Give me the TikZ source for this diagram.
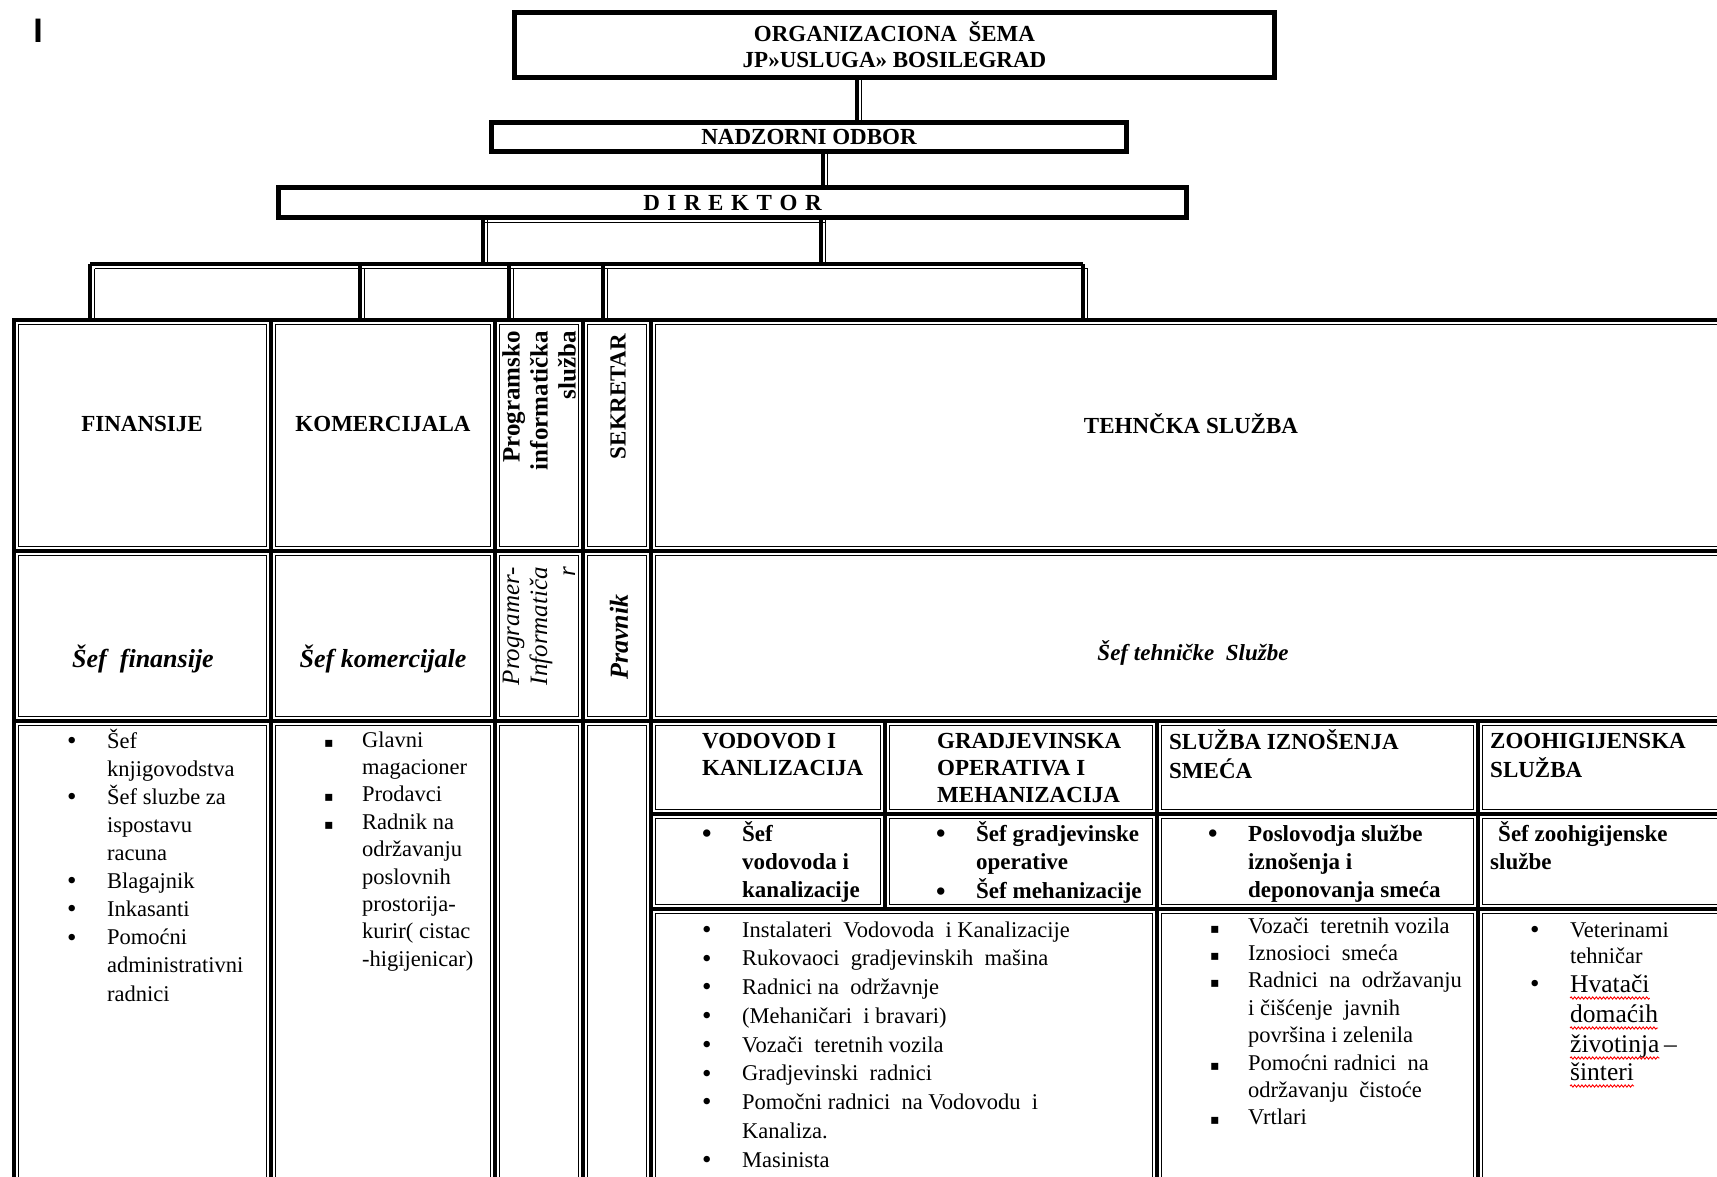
\documentclass[tikz,border=0pt]{standalone}
\usepackage{fontspec}
\setmainfont{Liberation Serif}
\newfontfamily\sansf{Liberation Sans}
\newfontfamily\symf{DejaVu Sans}
\usetikzlibrary{decorations.pathmorphing}
\newcommand\fs[2]{\fontsize{#1}{#2}\selectfont}
\newcommand\bul{\raisebox{-1.2pt}{\fontsize{27}{27}\selectfont\textbullet}}
\newcommand\bi[1]{\strut\makebox[39pt][l]{\hspace*{-1pt}\bul}#1}
\newcommand\si[1]{\strut\makebox[40pt][l]{\hspace*{2pt}{\symf\fontsize{14}{14}\selectfont ▪}}#1}
\newcommand\ci[1]{\strut\hspace*{39pt}#1}
\newcommand\cj[1]{\strut\hspace*{40pt}#1}
\newcommand\ls{\hspace{7.6pt}}
\newcommand\cellbox[4]{\draw[thk] (#1,#2) rectangle (#3,#4); \draw[thn] (#1+4.5,#2+4.5) rectangle (#3-4.5,#4-4.5);}
\begin{document}
\begin{tikzpicture}[x=1pt,y=-1pt,
  thk/.style={line width=3.5pt},
  thn/.style={line width=1.2pt},
  box/.style={draw, line width=3.5pt, inner sep=0pt, align=center, font=\bfseries\fs{23}{26}},
  hdr/.style={inner sep=0pt, font=\bfseries\fs{23}{27}},
  rhdr/.style={inner sep=0pt, rotate=90, anchor=east, align=right},
  itb/.style={inner sep=0pt, font=\bfseries\itshape\fs{26}{30}},
  lst/.style={inner sep=0pt, anchor=north west, align=left},
  wrd/.style={inner sep=0pt, anchor=base west, font=\fs{25.5}{29}},
  squig/.style={draw=red, line width=0.9pt, decorate, decoration={snake, amplitude=1.1pt, segment length=3.6pt}}
]
\useasboundingbox (0,0) rectangle (1717,1176);
\fill[white] (0,0) rectangle (1717,1176);
\clip (0,0) rectangle (1717,1176);

% corner mark
\node[font=\sansf\bfseries\fs{34}{34}, inner sep=0pt] (ibar) at (38,30.5) {I};

% top boxes
\node[box, minimum width=761pt, minimum height=66pt] (title) at (894.5,45) {ORGANIZACIONA\ \ ŠEMA\\JP»USLUGA» BOSILEGRAD};
\draw[thn] ([xshift=4.5pt,yshift=-4.5pt]title.north west) rectangle ([xshift=-4.5pt,yshift=4.5pt]title.south east);
\node[box, minimum width=636pt, minimum height=30pt] (nad) at (809,137) {NADZORNI ODBOR};
\draw[thn] ([xshift=4.5pt,yshift=-4.5pt]nad.north west) rectangle ([xshift=-4.5pt,yshift=4.5pt]nad.south east);
\node[box, minimum width=909pt, minimum height=31pt] (dir) at (732.5,202.5) {D\ls I\ls R\ls E\ls K\ls T\ls O\ls R};
\draw[thn] ([xshift=4.5pt,yshift=-4.5pt]dir.north west) rectangle ([xshift=-4.5pt,yshift=4.5pt]dir.south east);

% connectors
\coordinate (c1) at (857,0); \coordinate (c1t) at (861.5,0);
\draw[thk] (title.south -| c1) -- (nad.north -| c1);
\draw[thn] (title.south -| c1t) -- (nad.north -| c1t);
\coordinate (c2) at (823,0); \coordinate (c2t) at (827.5,0);
\draw[thk] (nad.south -| c2) -- (dir.north -| c2);
\draw[thn] (nad.south -| c2t) -- (dir.north -| c2t);

\coordinate (dL) at (483,264); \coordinate (dLt) at (487.5,264);
\coordinate (dR) at (821,264); \coordinate (dRt) at (825.5,264);
\draw[thk] (dir.south -| dL) -- (dL);
\draw[thn] (dir.south -| dLt) -- (dLt);
\draw[thk] (dir.south -| dR) -- (dR);
\draw[thn] (dir.south -| dRt) -- (dRt);
\coordinate (dLa) at (483,222.5); \coordinate (dRa) at (825.5,222.5);
\draw[thn] (dLa) -- (dRa);

\coordinate (b1) at (90,264); \coordinate (b2) at (1083,264);
\coordinate (b1t) at (94.5,268.5); \coordinate (b2t) at (1087.5,268.5);
\draw[thk] (b1) -- (b2);
\draw[thn] (b1t) -- (b2t);
\foreach \x/\n in {90/1,360/2,509/3,603/4,1083/5}{
  \coordinate (v\n) at (\x,320);
  \coordinate (w\n) at (\x+4.5,320);
  \draw[thk] (b1 -| v\n) -- (v\n);
  \draw[thn] (b1t -| w\n) -- (w\n);
}

% table cells
\cellbox{14}{320}{271}{551}
\cellbox{271}{320}{495}{551}
\cellbox{495}{320}{583}{551}
\cellbox{583}{320}{651}{551}
\cellbox{651}{320}{1731}{551}
\cellbox{14}{551}{271}{721}
\cellbox{271}{551}{495}{721}
\cellbox{495}{551}{583}{721}
\cellbox{583}{551}{651}{721}
\cellbox{651}{551}{1731}{721}
\cellbox{14}{721}{271}{1185}
\cellbox{271}{721}{495}{1185}
\cellbox{495}{721}{583}{1185}
\cellbox{583}{721}{651}{1185}
\cellbox{651}{721}{885}{814}
\cellbox{885}{721}{1157}{814}
\cellbox{1157}{721}{1478}{814}
\cellbox{1478}{721}{1731}{814}
\cellbox{651}{814}{885}{909}
\cellbox{885}{814}{1157}{909}
\cellbox{1157}{814}{1478}{909}
\cellbox{1478}{814}{1731}{909}
\cellbox{651}{909}{1157}{1185}
\cellbox{1157}{909}{1478}{1185}
\cellbox{1478}{909}{1731}{1185}

% row 1
\node[hdr] (fin) at (142,424) {FINANSIJE};
\node[hdr] (kom) at (383,424) {KOMERCIJALA};
\node[rhdr, font=\bfseries\fs{25}{28}] (prog) at (539,331) {Programsko\\informatička\\služba};
\node[rhdr, font=\bfseries\fs{23}{27}] (sek) at (618,334) {SEKRETAR};
\node[hdr] (teh) at (1191,424) {TEHNČKA SLUŽBA};

% row 2
\node[itb] (sfin) at (143,659) {Šef\ \ finansije};
\node[itb] (skom) at (383,659) {Šef komercijale};
\node[rhdr, font=\itshape\fs{25}{28}] (sprog) at (539,567) {Programer-\\Informatiča\\r};
\node[inner sep=0pt, rotate=90, font=\bfseries\itshape\fs{26}{30}] (sprav) at (619,637) {Pravnik};
\node[inner sep=0pt, font=\bfseries\itshape\fs{23}{27}] (steh) at (1193,653) {Šef tehničke\ \ Službe};

% row 3 lists
\node[lst, font=\fs{22.5}{28.1}] (lfin) at (68,728.3) {\bi{Šef}\\\ci{knjigovodstva}\\\bi{Šef sluzbe za}\\\ci{ispostavu}\\\ci{racuna}\\\bi{Blagajnik}\\\bi{Inkasanti}\\\bi{Pomoćni}\\\ci{administrativni}\\\ci{radnici}};
\node[lst, font=\fs{22.5}{27.4}] (lkom) at (322,727.8) {\si{Glavni}\\\cj{magacioner}\\\si{Prodavci}\\\si{Radnik na}\\\cj{održavanju}\\\cj{poslovnih}\\\cj{prostorija-}\\\cj{kurir( cistac}\\\cj{-higijenicar)}};

% sub headers
\node[lst, font=\bfseries\fs{23}{27}] (vod) at (702,729.6) {\strut VODOVOD I\\\strut KANLIZACIJA};
\node[lst, font=\bfseries\fs{23}{27}] (gra) at (937,729.6) {\strut GRADJEVINSKA\\\strut OPERATIVA I\\\strut MEHANIZACIJA};
\node[lst, font=\bfseries\fs{23}{27}] (slu) at (1169,729.6) {\strut SLUŽBA IZNOŠENJA\\\strut SMEĆA};
\node[lst, font=\bfseries\fs{23}{27}] (zoo) at (1490,729.6) {\strut ZOOHIGIJENSKA\\\strut SLUŽBA};

% sub row 2
\node[lst, font=\bfseries\fs{23}{28}] (svod) at (703,821.4) {\bi{Šef}\\\ci{vodovoda i}\\\ci{kanalizacije}};
\node[lst, font=\bfseries\fs{23}{28}] (sgra) at (937,821.4) {\bi{Šef gradjevinske}\\\ci{operative}\\\bi{Šef mehanizacije}};
\node[lst, font=\bfseries\fs{23}{28}] (sslu) at (1209,821.4) {\bi{Poslovodja službe}\\\ci{iznošenja i}\\\ci{deponovanja smeća}};
\node[lst, font=\bfseries\fs{23}{28}] (szoo) at (1490,821.4) {\strut\hspace*{8pt}Šef zoohigijenske\\\strut službe};

% sub row 3
\node[lst, font=\fs{22.5}{28.75}] (lvg) at (703,916.9) {\bi{Instalateri\ \ Vodovoda\ \ i Kanalizacije}\\\bi{Rukovaoci\ \ gradjevinskih\ \ mašina}\\\bi{Radnici na\ \ održavnje}\\\bi{(Mehaničari\ \ i bravari)}\\\bi{Vozači\ \ teretnih vozila}\\\bi{Gradjevinski\ \ radnici}\\\bi{Pomočni radnici\ \ na Vodovodu\ \ i}\\\ci{Kanaliza.}\\\bi{Masinista}};
\node[lst, font=\fs{22.5}{27.4}] (lslu) at (1208,913.8) {\si{Vozači\ \ teretnih vozila}\\\si{Iznosioci\ \ smeća}\\\si{Radnici\ \ na\ \ održavanju}\\\cj{i čišćenje\ \ javnih}\\\cj{površina i zelenila}\\\si{Pomoćni radnici\ \ na}\\\cj{održavanju\ \ čistoće}\\\si{Vrtlari}};

% zoo list
\node[inner sep=0pt, anchor=base west, font=\fs{22.5}{27}] (zb1) at (1530,937) {\bul};
\node[inner sep=0pt, anchor=base west, font=\fs{22.5}{27}] (z1) at (1570,937) {Veterinami};
\node[inner sep=0pt, anchor=base west, font=\fs{22.5}{27}] (z2) at (1570,963) {tehničar};
\node[inner sep=0pt, anchor=base west, font=\fs{22.5}{27}] (zb2) at (1530,991) {\bul};
\node[wrd] (z3) at (1570,992) {Hvatači};
\node[wrd] (z4) at (1570,1022) {domaćih};
\node[wrd] (z5) at (1570,1052) {životinja};
\node[inner sep=0pt, anchor=base west, font=\fs{25.5}{29}] (z5d) at (z5.base east) {\,–};
\node[wrd] (z6) at (1570,1080) {šinteri};
\foreach \w in {z3,z4,z5,z6}{
  \draw[squig] ([yshift=-6pt]\w.base west) -- ([yshift=-6pt]\w.base east);
}
\end{tikzpicture}
\end{document}
